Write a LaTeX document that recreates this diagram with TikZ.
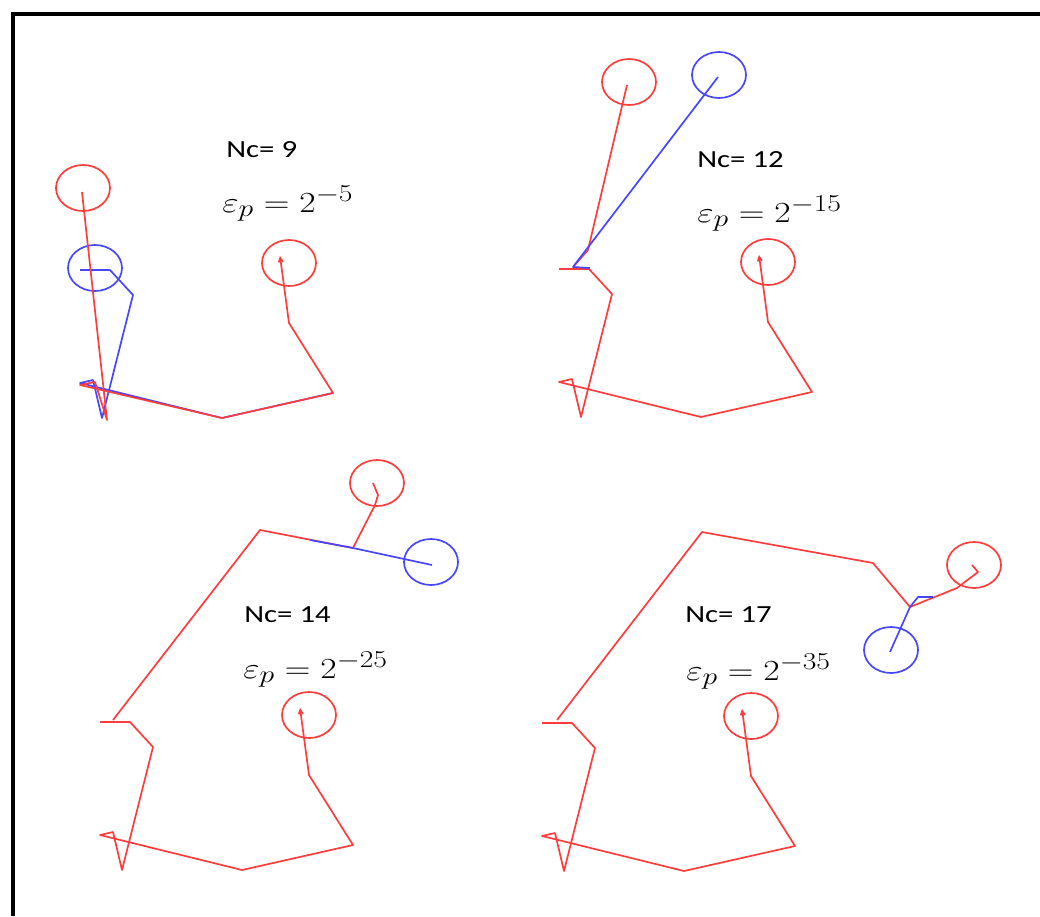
\documentclass[tikz,border=0pt]{standalone}
\usepackage{amsmath}
\usepackage[no-math]{fontspec}
\usepackage{xcolor}
\usetikzlibrary{arrows.meta}
\newfontfamily\calfont{Carlito}
\definecolor{pathred}{RGB}{255,60,60}
\definecolor{pathblue}{RGB}{70,70,255}

\begin{document}
\begin{tikzpicture}[x=0.025cm,y=-0.025cm,
  rline/.style={draw=pathred,line width=1.2pt,line join=round},
  bline/.style={draw=pathblue,line width=1.2pt,line join=round},
  nctext/.style={anchor=base west,inner sep=0pt,font=\calfont\fontsize{17.5}{19}\selectfont,xscale=1.25,transform shape},
  eptext/.style={anchor=base west,inner sep=0pt,font=\fontsize{22.7}{26}\selectfont,xscale=1.22,transform shape}]
  \useasboundingbox (0,0) rectangle (1040,916);
  \draw[line width=2.8pt] (13,916) -- (13,14) -- (1040,14);

  \draw[bline] (333,393) -- (222,418) -- (80,383) -- (93,380) -- (102,418) -- (133,295) -- (110,270) -- (80,270);
  \draw[bline] (95,268) ellipse [x radius=27,y radius=23];
  \foreach \dx/\dy in {0/0,479/-1,20/452,462/453} {
    \begin{scope}[shift={(\dx,\dy)}]
      \draw[rline] (289,263) ellipse [x radius=27,y radius=23];
      \draw[rline,{Straight Barb[length=3pt,width=3pt]}-] (280,256) -- (289,323) -- (333,393) -- (222,418);
    \end{scope}
  }
  \foreach \dx/\dy in {479/-1,20/452,462/453}
    \draw[rline,shift={(\dx,\dy)}] (222,418) -- (80,383) -- (93,380) -- (102,418) -- (133,295) -- (110,270) -- (80,270);

  \draw[rline] (222,418) -- (80,385) -- (95,382) -- (107,420) -- (82,192);
  \draw[rline] (83,188) ellipse [x radius=27,y radius=23];

  \draw[rline] (573,267) -- (588,250) -- (627,85);
  \draw[rline] (629,82) ellipse [x radius=27,y radius=23];
  \draw[bline] (590,268) -- (573,267) -- (718,77);
  \draw[bline] (719,75) ellipse [x radius=27,y radius=23];

  \draw[rline] (113,720) -- (260,530) -- (353,548) -- (375,505) -- (378,495) -- (373,483);
  \draw[rline] (377,483) ellipse [x radius=27,y radius=23];
  \draw[bline] (310,540) -- (353,548) -- (432,565);
  \draw[bline] (431,562) ellipse [x radius=27,y radius=23];

  \draw[rline] (557,720) -- (702,532) -- (873,563) -- (910,607) -- (957,588) -- (978,572) -- (972,565);
  \draw[rline] (974,565) ellipse [x radius=27,y radius=23];
  \draw[bline] (933,597) -- (918,597) -- (910,607) -- (890,652);
  \draw[bline] (891,650) ellipse [x radius=27,y radius=23];

  \node[nctext] (nc1) at (226,157) {Nc= 9};
  \node[eptext] (ep1) at (222,212) {$\varepsilon_p = 2^{-5}$};
  \node[nctext] (nc2) at (697,167) {Nc= 12};
  \node[eptext] (ep2) at (697,222) {$\varepsilon_p = 2^{-15}$};
  \node[nctext] (nc3) at (244,622) {Nc= 14};
  \node[eptext] (ep3) at (243,678) {$\varepsilon_p = 2^{-25}$};
  \node[nctext] (nc4) at (685,622) {Nc= 17};
  \node[eptext] (ep4) at (686,680) {$\varepsilon_p = 2^{-35}$};
\end{tikzpicture}
\end{document}
